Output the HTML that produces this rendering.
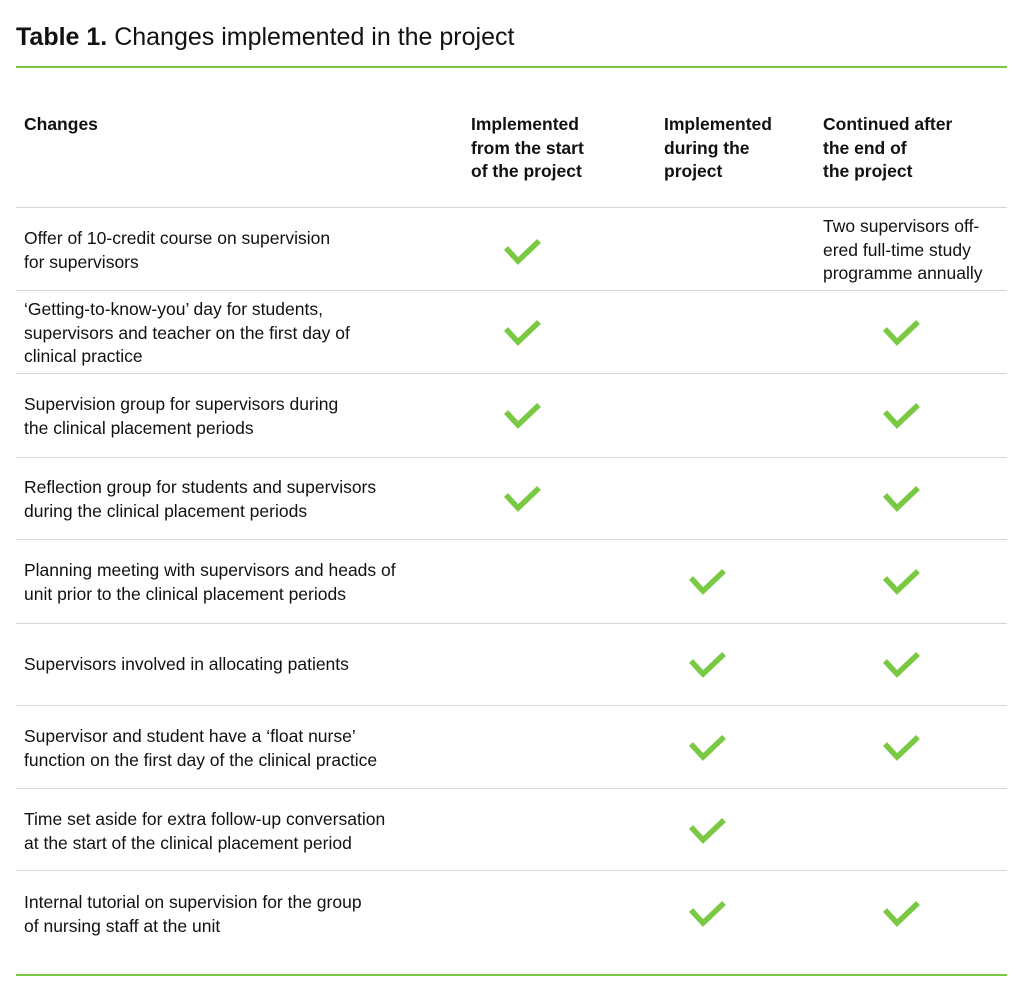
<!DOCTYPE html>
<html><head><style>
body{margin:0;width:1024px;height:999px;background:#fff;font-family:"Liberation Sans",sans-serif;color:#111;position:relative;overflow:hidden}
.t{position:absolute;font-size:17.5px;line-height:23.5px;white-space:nowrap}
.b{font-weight:bold}
.hl{position:absolute;left:16px;width:991px;height:1px;background:#d6d6d6}
.g{position:absolute;left:16px;width:991px;height:2px;background:#7ac943}
svg.c{position:absolute;width:40px;height:30px}
</style></head><body>
<div class="t" style="left:16px;top:22px;font-size:25px;line-height:30px"><b>Table 1.</b> Changes implemented in the project</div>
<div class="g" style="top:66px"></div>
<div class="t b" style="left:24px;top:113px">Changes</div>
<div class="t b" style="left:471px;top:113px">Implemented<br>from the start<br>of the project</div>
<div class="t b" style="left:664px;top:113px">Implemented<br>during the<br>project</div>
<div class="t b" style="left:823px;top:113px">Continued after<br>the end of<br>the project</div>
<div class="hl" style="top:207px"></div>
<div class="hl" style="top:290px"></div>
<div class="hl" style="top:373px"></div>
<div class="hl" style="top:457px"></div>
<div class="hl" style="top:539px"></div>
<div class="hl" style="top:623px"></div>
<div class="hl" style="top:705px"></div>
<div class="hl" style="top:788px"></div>
<div class="hl" style="top:870px"></div>
<div class="g" style="top:974px"></div>

<div class="t" style="left:24px;top:227px">Offer of 10-credit course on supervision<br>for supervisors</div>
<div class="t" style="left:823px;top:215px">Two supervisors off-<br>ered full-time study<br>programme annually</div>
<div class="t" style="left:24px;top:298px">‘Getting-to-know-you’ day for students,<br>supervisors and teacher on the first day of<br>clinical practice</div>
<div class="t" style="left:24px;top:393px">Supervision group for supervisors during<br>the clinical placement periods</div>
<div class="t" style="left:24px;top:476px">Reflection group for students and supervisors<br>during the clinical placement periods</div>
<div class="t" style="left:24px;top:559px">Planning meeting with supervisors and heads of<br>unit prior to the clinical placement periods</div>
<div class="t" style="left:24px;top:653px">Supervisors involved in allocating patients</div>
<div class="t" style="left:24px;top:725px">Supervisor and student have a ‘float nurse’<br>function on the first day of the clinical practice</div>
<div class="t" style="left:24px;top:808px">Time set aside for extra follow-up conversation<br>at the start of the clinical placement period</div>
<div class="t" style="left:24px;top:891px">Internal tutorial on supervision for the group<br>of nursing staff at the unit</div>

<svg width="0" height="0" style="position:absolute"><defs><symbol id="k" viewBox="0 0 40 30"><polyline points="5,11 17,24 38,4" fill="none" stroke="#7ac943" stroke-width="5.5"/></symbol></defs></svg>
<svg class="c" style="left:501px;top:237px"><use href="#k"/></svg>
<svg class="c" style="left:501px;top:318px"><use href="#k"/></svg>
<svg class="c" style="left:880px;top:318px"><use href="#k"/></svg>
<svg class="c" style="left:501px;top:401px"><use href="#k"/></svg>
<svg class="c" style="left:880px;top:401px"><use href="#k"/></svg>
<svg class="c" style="left:501px;top:484px"><use href="#k"/></svg>
<svg class="c" style="left:880px;top:484px"><use href="#k"/></svg>
<svg class="c" style="left:686px;top:567px"><use href="#k"/></svg>
<svg class="c" style="left:880px;top:567px"><use href="#k"/></svg>
<svg class="c" style="left:686px;top:650px"><use href="#k"/></svg>
<svg class="c" style="left:880px;top:650px"><use href="#k"/></svg>
<svg class="c" style="left:686px;top:733px"><use href="#k"/></svg>
<svg class="c" style="left:880px;top:733px"><use href="#k"/></svg>
<svg class="c" style="left:686px;top:816px"><use href="#k"/></svg>
<svg class="c" style="left:686px;top:899px"><use href="#k"/></svg>
<svg class="c" style="left:880px;top:899px"><use href="#k"/></svg>
</body></html>
